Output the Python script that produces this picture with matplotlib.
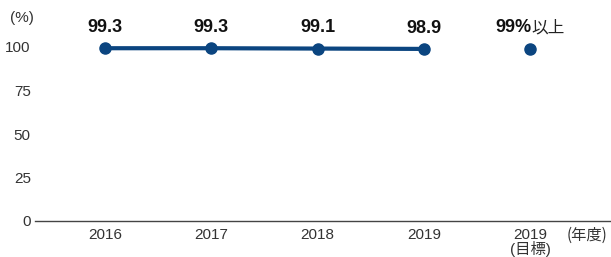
import matplotlib.pyplot as plt
from matplotlib import font_manager

years = ["2016", "2017", "2018", "2019"]
rates = [99.3, 99.3, 99.1, 98.9]
target_label = "2019\n(目標)"
target_rate = 99.0
yticks = [0, 25, 50, 75, 100]

names = {f.name for f in font_manager.fontManager.ttflist}
narrow = "Liberation Sans Narrow" if "Liberation Sans Narrow" in names else "Liberation Sans"
plt.rcParams['font.family'] = [narrow, 'Noto Sans CJK JP', 'DejaVu Sans']

navy = "#0b4580"

fig = plt.figure(figsize=(6.11, 2.57), dpi=100)
ax = fig.add_axes([35 / 611, 36 / 257, 576 / 611, 174 / 257])

xs = list(range(len(years)))
ax.plot(xs, rates, color=navy, lw=3, marker="o", ms=8, clip_on=False, zorder=3)
ax.plot([len(years)], [target_rate], color=navy, marker="o", ms=8, clip_on=False, zorder=3)

for x, v in zip(xs, rates):
    ax.annotate(f"{v:.1f}", (x, v), xytext=(0, 15), textcoords="offset points",
                ha="center", va="center", fontsize=13, fontweight="bold", color="#111111")
ax.annotate(f"{target_rate:.0f}%", (len(years), target_rate), xytext=(1, 15),
            textcoords="offset points", ha="right", va="center",
            fontsize=13, fontweight="bold", color="#111111")
ax.annotate("以上", (len(years), target_rate), xytext=(1, 15),
            textcoords="offset points", ha="left", va="center",
            fontsize=12, color="#222222", family=['Noto Sans CJK JP'])

ax.set_xlim(-0.66, 4.76)
ax.set_ylim(0, 100)
ax.set_yticks(yticks)
ax.set_yticklabels([str(t) for t in yticks], fontsize=11, color="#333333")
ax.set_xticks(xs + [len(years)])
ax.set_xticklabels(years + [target_label], fontsize=11, color="#333333", linespacing=0.95)
ax.tick_params(axis="y", length=0, pad=3)
ax.tick_params(axis="x", length=0, pad=5)
for s in ["top", "right", "left"]:
    ax.spines[s].set_visible(False)
ax.spines["bottom"].set_color("#444444")
ax.spines["bottom"].set_linewidth(1)

fig.text(10 / 611, 1 - 18 / 257, "(%)", fontsize=11, color="#333333", va="center")
fig.text(567 / 611, 1 - 235 / 257, "(年度)", fontsize=11, color="#333333", va="center",
         family=['Noto Sans CJK JP'])

fig.savefig("out.png", dpi=100)
